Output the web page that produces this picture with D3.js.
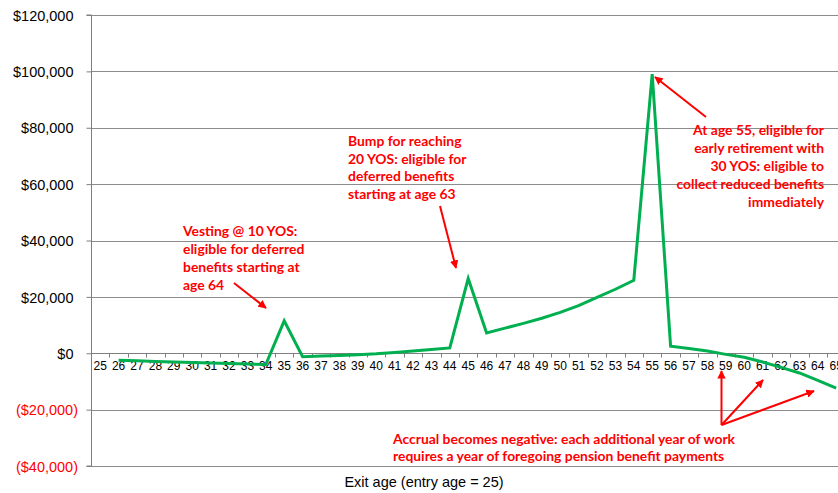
<!DOCTYPE html>
<html>
<head>
<meta charset="utf-8">
<script src="https://cdn.jsdelivr.net/npm/d3@7"></script>
<style>
  html, body { margin: 0; padding: 0; background: #fff; }
  svg { display: block; }
</style>
</head>
<body>
<svg id="chart" width="838" height="493"></svg>
<script>
// Exit ages on the category axis (entry age = 25)
const exitAges = d3.range(25, 66);
// Annual pension wealth accrual by exit age (no value at age 25)
const accrualAges = d3.range(26, 66);
const accrualValues = [
  -2500, -2700, -2900, -3100, -3300, -3500, -3600, -3800, -4000, 11500,
  -1200, -1000, -800, -500, -200, 300, 800, 1300, 1900, 26500,
  7200, 8900, 10600, 12400, 14500, 16900, 19800, 22700, 25900, 99000,
  2500, 1700, 800, -400, -1400, -3100, -5000, -7000, -9600, -12400
];
const yTicks = [-40000, -20000, 0, 20000, 40000, 60000, 80000, 100000, 120000];
const xTitle = "Exit age (entry age = 25)";

const notes = [
  { lines: ["Vesting @ 10 YOS:", "eligible for deferred", "benefits starting at", "age 64"],
    x: 183, y: 236, anchor: "start", dy: 18.1 },
  { lines: ["Bump for reaching", "20 YOS: eligible for", "deferred benefits", "starting at age 63"],
    x: 348, y: 146, anchor: "start", dy: 17.7 },
  { lines: ["At age 55, eligible for", "early retirement with", "30 YOS: eligible to", "collect reduced benefits", "immediately"],
    x: 824, y: 135, anchor: "end", dy: 18.1 },
  { lines: ["Accrual becomes negative: each additional year of work", "requires a year of foregoing pension benefit payments"],
    x: 393, y: 444, anchor: "start", dy: 17.3 }
];
const arrows = [
  { from: [234, 283], to: [266, 308] },
  { from: [440, 206], to: [456, 268] },
  { from: [706, 117], to: [655, 77] },
  { from: [721.5, 425], to: [721.5, 371] },
  { from: [721.5, 425], to: [763, 380] },
  { from: [721.5, 425], to: [814, 391] }
];

const svg = d3.select("#chart");
const plotLeft = 91, plotTop = 15, plotBottom = 466;
const bandW = 18.4;

const x = d3.scaleBand().domain(exitAges).range([plotLeft, plotLeft + bandW * exitAges.length]).paddingInner(0).paddingOuter(0);
const y = d3.scaleLinear().domain([-40000, 120000]).range([plotBottom, plotTop]);

// Horizontal gridlines
svg.append("g").selectAll("line").data(yTicks.filter(d => d !== 0)).join("line")
  .attr("x1", plotLeft).attr("x2", 838)
  .attr("y1", d => Math.round(y(d)) + 0.5).attr("y2", d => Math.round(y(d)) + 0.5)
  .attr("stroke", "#8c8c8c").attr("stroke-width", 1);

// Y axis
const fmt = d => d < 0 ? "($" + d3.format(",")(-d) + ")" : "$" + d3.format(",")(d);
const yAxis = svg.append("g").attr("transform", `translate(${plotLeft + 0.5},0)`)
  .call(d3.axisLeft(y).tickValues(yTicks).tickSize(5).tickPadding(0).tickFormat(fmt));
yAxis.select(".domain").attr("stroke", "#7f7f7f").attr("d", `M-5,${y(-40000)}H0V${y(120000)}H-5`);
yAxis.selectAll(".tick line").attr("stroke", "#7f7f7f");
yAxis.selectAll(".tick text")
  .attr("font-family", "'Liberation Sans', Arial, sans-serif")
  .attr("font-size", "14.5px")
  .attr("fill", d => d < 0 ? "#ff0000" : "#000")
  .attr("x", d => d < 0 ? -13.5 : -18)
  .attr("dy", "0.36em");

// X axis (category) along zero
const zeroY = Math.round(y(0)) + 0.5;
const xAxisG = svg.append("g").attr("transform", `translate(0,${zeroY})`);
xAxisG.append("line").attr("x1", plotLeft).attr("x2", 838).attr("stroke", "#7f7f7f");
xAxisG.selectAll("line.tk").data(exitAges.concat([66])).join("line").attr("class", "tk")
  .attr("x1", (d, i) => Math.round(plotLeft + i * bandW) + 0.5)
  .attr("x2", (d, i) => Math.round(plotLeft + i * bandW) + 0.5)
  .attr("y1", 0).attr("y2", 4).attr("stroke", "#7f7f7f");
xAxisG.selectAll("text").data(exitAges).join("text")
  .attr("x", d => x(d) + x.bandwidth() / 2)
  .attr("y", 16.5)
  .attr("text-anchor", "middle")
  .attr("font-family", "'Liberation Sans', Arial, sans-serif")
  .attr("font-size", "12px")
  .attr("fill", "#000")
  .text(d => d);

// Accrual line
const pts = accrualAges.map((a, i) => [x(a) + x.bandwidth() / 2, y(accrualValues[i])]);
svg.append("path")
  .attr("d", d3.line()(pts))
  .attr("fill", "none")
  .attr("stroke", "#00b050")
  .attr("stroke-width", 3)
  .attr("stroke-linejoin", "miter");

// Axis title
svg.append("text")
  .attr("x", 424).attr("y", 487)
  .attr("text-anchor", "middle")
  .attr("font-family", "'Liberation Sans', Arial, sans-serif")
  .attr("font-size", "14.5px")
  .attr("fill", "#000")
  .text(xTitle);

// Annotation arrows
svg.append("defs").append("marker")
  .attr("id", "head").attr("viewBox", "0 0 10 10")
  .attr("refX", 9).attr("refY", 5)
  .attr("markerWidth", 4.2).attr("markerHeight", 4.2)
  .attr("markerUnits", "strokeWidth")
  .attr("orient", "auto")
  .append("path").attr("d", "M0,0L10,5L0,10z").attr("fill", "#ff0000");

svg.append("g").selectAll("line").data(arrows).join("line")
  .attr("x1", d => d.from[0]).attr("y1", d => d.from[1])
  .attr("x2", d => d.to[0]).attr("y2", d => d.to[1])
  .attr("stroke", "#ff0000").attr("stroke-width", 2)
  .attr("marker-end", "url(#head)");

// Annotation text
notes.forEach(n => {
  const t = svg.append("text")
    .attr("font-family", "Lato, 'Open Sans', sans-serif")
    .attr("font-weight", "bold")
    .attr("font-size", "13.9px")
    .attr("fill", "#ff0000")
    .attr("text-anchor", n.anchor);
  n.lines.forEach((ln, i) => {
    t.append("tspan").attr("x", n.x).attr("y", n.y + i * n.dy).text(ln);
  });
});
</script>
</body>
</html>
